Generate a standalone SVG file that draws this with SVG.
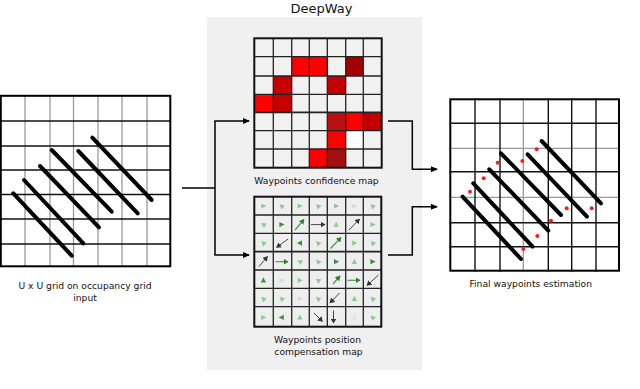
<svg xmlns="http://www.w3.org/2000/svg" xmlns:xlink="http://www.w3.org/1999/xlink" width="640" height="389" viewBox="0 0 640 389">
<style>
text{font-family:"DejaVu Sans","Liberation Sans",sans-serif;fill:#111}
.lbl{font-size:9.2px;text-anchor:middle}
.conn{fill:none;stroke:#000;stroke-width:1.5}
.blk{stroke:#111;stroke-width:1.4}
.gry{stroke:#999;stroke-width:1.3}
.row{stroke:#000;stroke-width:4;stroke-linecap:round}
.wp{fill:#ff1a1a}
.lt{fill:#8ec98e}.ft{fill:#c9e4c9}.dk{fill:#3f8f3f}
.arw{stroke:#444;stroke-width:1;marker-end:url(#ah)}
.garw{stroke:#4c9a4c;stroke-width:1.2;marker-end:url(#ahg)}
</style>
<defs>
<marker id="arr" markerUnits="userSpaceOnUse" markerWidth="8" markerHeight="8" refX="6" refY="4" orient="auto"><path d="M0,1 L7,4 L0,7 z" fill="#000"/></marker>
<marker id="ah" markerUnits="userSpaceOnUse" markerWidth="6" markerHeight="6" refX="4.5" refY="3" orient="auto"><path d="M0,0 L5,3 L0,6 z" fill="#333"/></marker>
<marker id="ahg" markerUnits="userSpaceOnUse" markerWidth="6" markerHeight="6" refX="4.5" refY="3" orient="auto"><path d="M0,0 L5,3 L0,6 z" fill="#2f7f2f"/></marker>
<path id="tri" d="M3,0 L-2.2,-2.6 L-2.2,2.6 z"/>
<g id="lines">
<line class="row" x1="13.3" y1="193.3" x2="71.7" y2="255.7"/>
<line class="row" x1="24" y1="180" x2="83.3" y2="243.3"/>
<line class="row" x1="40" y1="166" x2="99" y2="227.3"/>
<line class="row" x1="51.7" y1="150" x2="111.7" y2="211.7"/>
<line class="row" x1="78.3" y1="151" x2="137.7" y2="213.3"/>
<line class="row" x1="92.3" y1="137.7" x2="151.7" y2="200"/>
</g>
</defs>

<!-- DeepWay panel -->
<rect x="207" y="17" width="215" height="353" fill="#f0f0f0"/>
<text x="321.5" y="13" style="font-size:13px;text-anchor:middle">DeepWay</text>

<!-- Input grid -->
<g id="input-grid">
<rect x="0" y="95" width="171" height="172" fill="#fff"/>
<g class="gry">
<line x1="25" y1="95" x2="25" y2="267"/><line x1="50" y1="95" x2="50" y2="267"/><line x1="73.5" y1="95" x2="73.5" y2="267"/>
<line x1="98" y1="95" x2="98" y2="267"/><line x1="122" y1="95" x2="122" y2="267"/><line x1="147" y1="95" x2="147" y2="267"/>
</g>
<g class="blk">
<line x1="0" y1="121" x2="171" y2="121"/><line x1="0" y1="146" x2="171" y2="146"/><line x1="0" y1="170" x2="171" y2="170"/>
<line x1="0" y1="194.5" x2="171" y2="194.5"/><line x1="0" y1="219" x2="171" y2="219"/><line x1="0" y1="244" x2="171" y2="244"/>
</g>
<rect x="0.8" y="95.8" width="169.5" height="170.5" fill="none" stroke="#000" stroke-width="2"/>
<use xlink:href="#lines"/>
<text class="lbl" x="85" y="289">U x U grid on occupancy grid</text>
<text class="lbl" x="85" y="300.5">input</text>
</g>

<!-- Confidence map -->
<g id="confidence-map">
<rect x="254.3" y="38.3" width="127.4" height="129.4" fill="#f1f1f1"/>
<rect x="291.7" y="56.7" width="17.6" height="19.3" fill="#ff0000"/>
<rect x="309.3" y="56.7" width="18" height="19.3" fill="#ff0000"/>
<rect x="345.7" y="56.7" width="17.6" height="19.3" fill="#a30000"/>
<rect x="273.3" y="76" width="18.4" height="18.3" fill="#c40000"/>
<rect x="327.3" y="76" width="18.4" height="18.3" fill="#c20000"/>
<rect x="254.3" y="94.3" width="19" height="18" fill="#ff0000"/>
<rect x="273.3" y="94.3" width="18.4" height="18" fill="#c40000"/>
<rect x="327.3" y="112.3" width="18.4" height="18.4" fill="#b81010"/>
<rect x="345.7" y="112.3" width="17.6" height="18.4" fill="#ff0000"/>
<rect x="363.3" y="112.3" width="18.4" height="18.4" fill="#c20000"/>
<rect x="327.3" y="130.7" width="18.4" height="18.3" fill="#ff0000"/>
<rect x="345.7" y="130.7" width="17.6" height="18.3" fill="#ffffff"/>
<rect x="309.3" y="149" width="18" height="18.7" fill="#ff0000"/>
<rect x="327.3" y="149" width="18.4" height="18.7" fill="#a31010"/>
<g stroke="#222" stroke-width="1.3">
<line x1="273.3" y1="38.3" x2="273.3" y2="167.7"/><line x1="291.7" y1="38.3" x2="291.7" y2="167.7"/><line x1="309.3" y1="38.3" x2="309.3" y2="167.7"/>
<line x1="327.3" y1="38.3" x2="327.3" y2="167.7"/><line x1="345.7" y1="38.3" x2="345.7" y2="167.7"/><line x1="363.3" y1="38.3" x2="363.3" y2="167.7"/>
<line x1="254.3" y1="56.7" x2="381.7" y2="56.7"/><line x1="254.3" y1="76" x2="381.7" y2="76"/><line x1="254.3" y1="94.3" x2="381.7" y2="94.3"/>
<line x1="254.3" y1="112.3" x2="381.7" y2="112.3" stroke-width="1.8"/><line x1="254.3" y1="130.7" x2="381.7" y2="130.7"/><line x1="254.3" y1="149" x2="381.7" y2="149"/>
</g>
<rect x="254.3" y="38.3" width="127.4" height="129.4" fill="none" stroke="#111" stroke-width="2"/>
<text class="lbl" x="316.5" y="184">Waypoints confidence map</text>
</g>

<!-- Compensation map -->
<g id="compensation-map">
<rect x="254.3" y="196.7" width="127" height="130" fill="#eeeeee"/>
<g stroke="#222" stroke-width="1.3">
<line x1="273.3" y1="196.7" x2="273.3" y2="326.7"/><line x1="291.7" y1="196.7" x2="291.7" y2="326.7"/><line x1="309.3" y1="196.7" x2="309.3" y2="326.7"/>
<line x1="327.3" y1="196.7" x2="327.3" y2="326.7"/><line x1="345.7" y1="196.7" x2="345.7" y2="326.7"/><line x1="363.3" y1="196.7" x2="363.3" y2="326.7"/>
<line x1="254.3" y1="215" x2="381.3" y2="215"/><line x1="254.3" y1="233.3" x2="381.3" y2="233.3"/><line x1="254.3" y1="251.7" x2="381.3" y2="251.7" stroke-width="1.8"/>
<line x1="254.3" y1="270" x2="381.3" y2="270"/><line x1="254.3" y1="288.3" x2="381.3" y2="288.3"/><line x1="254.3" y1="306.7" x2="381.3" y2="306.7"/>
</g>
<rect x="254.3" y="196.7" width="127" height="130" fill="none" stroke="#111" stroke-width="2"/>
<!-- row 0 -->
<use xlink:href="#tri" class="lt" transform="translate(263.4,206)"/>
<use xlink:href="#tri" class="lt" transform="translate(281.6,206) rotate(-135)"/>
<use xlink:href="#tri" class="lt" transform="translate(299.8,206)"/>
<use xlink:href="#tri" class="lt" transform="translate(318,206) rotate(-135)"/>
<use xlink:href="#tri" class="lt" transform="translate(336.2,206)"/>
<use xlink:href="#tri" class="ft" transform="translate(354.4,206)"/>
<use xlink:href="#tri" class="lt" transform="translate(372.6,206) rotate(-135)"/>
<!-- row 1 -->
<use xlink:href="#tri" class="lt" transform="translate(263.4,224.6) rotate(-150)"/>
<use xlink:href="#tri" class="dk" transform="translate(281.6,224.6)"/>
<line class="garw" x1="295" y1="230" x2="304" y2="219.5"/>
<line class="arw" x1="311" y1="224.6" x2="325" y2="224.6"/>
<use xlink:href="#tri" class="lt" transform="translate(336.2,224.6) rotate(-90)"/>
<line class="arw" x1="349" y1="230" x2="359.5" y2="219"/>
<use xlink:href="#tri" class="lt" transform="translate(372.6,224.6)"/>
<!-- row 2 -->
<use xlink:href="#tri" class="lt" transform="translate(263.4,243.1) rotate(-135)"/>
<line class="arw" x1="288" y1="239" x2="276.5" y2="247.5"/>
<use xlink:href="#tri" class="dk" transform="translate(299.8,243.1) rotate(180)"/>
<use xlink:href="#tri" class="lt" transform="translate(318,243.1) rotate(-135)"/>
<line class="garw" x1="330.5" y1="248.5" x2="341" y2="237.5"/>
<use xlink:href="#tri" class="lt" transform="translate(354.4,243.1)"/>
<use xlink:href="#tri" class="lt" transform="translate(372.6,243.1) rotate(-135)"/>
<!-- row 3 -->
<line class="arw" x1="259" y1="266.5" x2="267.5" y2="256.5"/>
<line class="garw" x1="275.5" y1="261.7" x2="288" y2="261.7"/>
<use xlink:href="#tri" class="lt" transform="translate(299.8,261.7) rotate(-150)"/>
<use xlink:href="#tri" class="lt" transform="translate(318,261.7) rotate(-135)"/>
<use xlink:href="#tri" class="dk" transform="translate(336.2,261.7)"/>
<use xlink:href="#tri" class="lt" transform="translate(354.4,261.7) rotate(-90)"/>
<use xlink:href="#tri" class="dk" transform="translate(372.6,261.7)"/>
<!-- row 4 -->
<use xlink:href="#tri" class="dk" transform="translate(263.4,280.3) rotate(-90)"/>
<use xlink:href="#tri" class="ft" transform="translate(281.6,280.3)"/>
<use xlink:href="#tri" class="lt" transform="translate(299.8,280.3)"/>
<use xlink:href="#tri" class="lt" transform="translate(318,280.3) rotate(-150)"/>
<line class="garw" x1="333" y1="284" x2="340" y2="276"/>
<line class="garw" x1="347.5" y1="280.3" x2="360" y2="280.3"/>
<line class="arw" x1="378.5" y1="275" x2="367" y2="285.5"/>
<!-- row 5 -->
<use xlink:href="#tri" class="lt" transform="translate(263.4,298.8) rotate(-135)"/>
<use xlink:href="#tri" class="lt" transform="translate(281.6,298.8) rotate(-135)"/>
<use xlink:href="#tri" class="ft" transform="translate(299.8,298.8)"/>
<use xlink:href="#tri" class="lt" transform="translate(318,298.8) rotate(-150)"/>
<line class="arw" x1="339.5" y1="293" x2="330" y2="303"/>
<use xlink:href="#tri" class="lt" transform="translate(354.4,298.8) rotate(-90)"/>
<use xlink:href="#tri" class="lt" transform="translate(372.6,298.8) rotate(-135)"/>
<!-- row 6 -->
<use xlink:href="#tri" class="lt" transform="translate(263.4,317.4)"/>
<use xlink:href="#tri" class="dk" transform="translate(281.6,317.4) rotate(180)"/>
<use xlink:href="#tri" class="lt" transform="translate(299.8,317.4) rotate(-90)"/>
<line class="arw" x1="314" y1="313" x2="322.5" y2="321.5"/>
<line class="arw" x1="333.5" y1="310.5" x2="333.5" y2="323"/>
<use xlink:href="#tri" fill="#e2e2e2" transform="translate(354.4,317.4) rotate(-90)"/>
<use xlink:href="#tri" class="lt" transform="translate(372.6,317.4) rotate(-135)"/>
<text class="lbl" x="317.5" y="343">Waypoints position</text>
<text class="lbl" x="318.5" y="355">compensation map</text>
</g>

<!-- Output grid -->
<g id="output-grid">
<rect x="449.3" y="98.3" width="170.7" height="173.4" fill="#fff"/>
<g class="gry">
<line x1="523.3" y1="98.3" x2="523.3" y2="271.7"/>
<line x1="449.3" y1="148.3" x2="620" y2="148.3"/><line x1="449.3" y1="197.3" x2="620" y2="197.3"/>
</g>
<g class="blk">
<line x1="475" y1="98.3" x2="475" y2="271.7"/><line x1="500" y1="98.3" x2="500" y2="271.7"/><line x1="548.3" y1="98.3" x2="548.3" y2="271.7"/>
<line x1="571.7" y1="98.3" x2="571.7" y2="271.7"/><line x1="596" y1="98.3" x2="596" y2="271.7"/>
<line x1="449.3" y1="123.3" x2="620" y2="123.3"/><line x1="449.3" y1="171.7" x2="620" y2="171.7"/>
<line x1="449.3" y1="222.7" x2="620" y2="222.7"/><line x1="449.3" y1="246.7" x2="620" y2="246.7"/>
</g>
<rect x="450.3" y="99.3" width="168.7" height="171.4" fill="none" stroke="#000" stroke-width="2"/>
<use xlink:href="#lines" transform="translate(449.3,3.3)"/>
<g class="wp">
<circle cx="536.7" cy="149.3" r="2"/><circle cx="522.3" cy="161" r="2"/><circle cx="497.7" cy="162.7" r="2"/>
<circle cx="483.7" cy="178.3" r="2"/><circle cx="470" cy="191.7" r="2"/><circle cx="566.7" cy="208.3" r="2"/>
<circle cx="591.7" cy="208.3" r="2"/><circle cx="551" cy="220.7" r="2"/><circle cx="537.3" cy="236" r="2"/>
<circle cx="523.3" cy="249" r="2"/>
</g>
<text class="lbl" x="530.7" y="287">Final waypoints estimation</text>
</g>

<!-- Connectors -->
<g id="connectors">
<polyline class="conn" points="182,188 215,188"/>
<polyline class="conn" points="215,121 215,255"/>
<polyline class="conn" points="214.3,121 249,121" marker-end="url(#arr)"/>
<polyline class="conn" points="214.3,255 249,255" marker-end="url(#arr)"/>
<polyline class="conn" points="388,121 412.3,121 412.3,169.3 437,169.3" marker-end="url(#arr)"/>
<polyline class="conn" points="388,255 412.3,255 412.3,206.7 437,206.7" marker-end="url(#arr)"/>
</g>
</svg>
